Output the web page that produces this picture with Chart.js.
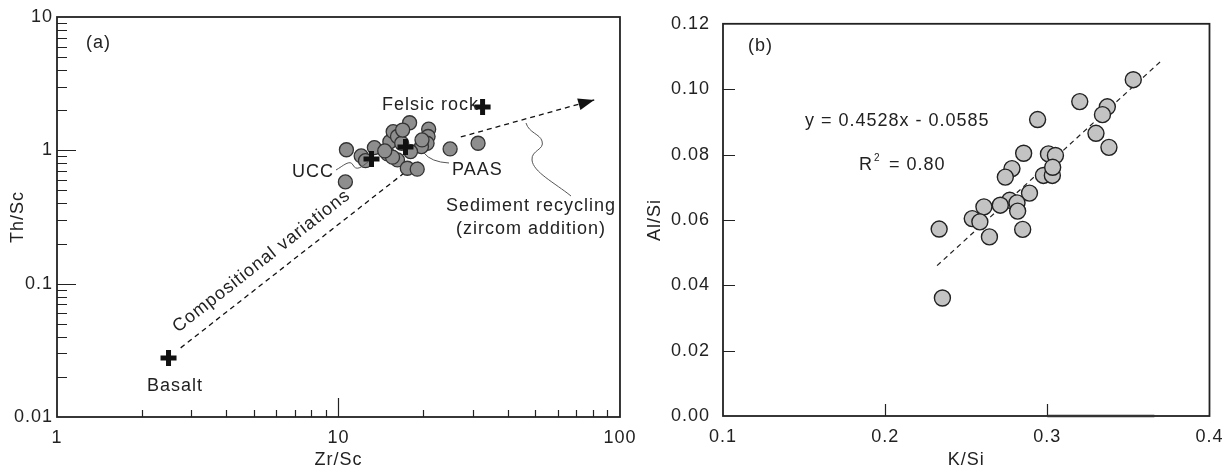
<!DOCTYPE html>
<html>
<head>
<meta charset="utf-8">
<script src="https://cdn.jsdelivr.net/npm/chart.js@4.4.1/dist/chart.umd.min.js"></script>
<style>
  body { margin: 0; background: #fff; width: 1232px; height: 469px; position: relative; overflow: hidden; }
  canvas { position: absolute; top: 0; }
  #chartA { left: 0; }
  #chartB { left: 630px; }
</style>
</head>
<body>
<canvas id="chartA" width="645" height="469"></canvas>
<canvas id="chartB" width="602" height="469"></canvas>
<script>
// ---- panel (a): Zr/Sc vs Th/Sc ----
const zrSc = [10.67, 12.04, 12.47, 13.41, 10.58, 14.94, 15.22, 15.64, 16.2, 16.77, 16.2, 15.56, 17.89,
  17.56, 19.04, 20.91, 20.81, 20.64, 19.71, 19.8, 24.92, 31.32, 18.03, 16.9, 14.6];
const thSc = [1.01, 0.908, 0.837, 1.048, 0.58, 0.94, 1.16, 1.38, 1.27, 1.13, 0.847, 0.888, 1.61,
  0.734, 0.722, 1.44, 1.27, 1.13, 1.066, 1.197, 1.024, 1.13, 0.978, 1.42, 0.99];

const refNames = ['Basalt', 'UCC', 'PAAS', 'Felsic rock'];
const refZrSc = [2.49, 13.1, 17.3, 32.5];
const refThSc = [0.0277, 0.862, 1.06, 2.11];

// dashed trend arrows
const mixZr = [2.75, 19.6];
const mixTh = [0.033, 0.847];
const recycleZr = [27.2, 81];
const recycleTh = [1.26, 2.39];

const zrTicks = [1, 10, 100];
const zrTickLabels = ['1', '10', '100'];
const thTicks = [0.01, 0.1, 1, 10];
const thTickLabels = ['0.01', '0.1', '1', '10'];

// ---- panel (b): K/Si vs Al/Si ----
const kSi = [0.353, 0.320, 0.337, 0.334, 0.330, 0.338, 0.294, 0.2854, 0.3007, 0.305, 0.2782, 0.2741,
  0.2976, 0.3031, 0.3033, 0.289, 0.2768, 0.271, 0.2813, 0.2817, 0.2609, 0.2537, 0.2584, 0.2333,
  0.2643, 0.2848, 0.2353];
const alSi = [0.1029, 0.0962, 0.0946, 0.0922, 0.0865, 0.0822, 0.0907, 0.0804, 0.0802, 0.0797, 0.0757,
  0.0731, 0.0736, 0.0736, 0.0761, 0.0682, 0.066, 0.0645, 0.0652, 0.0627, 0.064, 0.0604, 0.0594,
  0.0572, 0.0548, 0.0571, 0.0361];

const fitK = [0.232, 0.371];
const fitAl = [0.046, 0.109];

const kTicks = [0.1, 0.2, 0.3, 0.4];
const kTickLabels = ['0.1', '0.2', '0.3', '0.4'];
const alTicks = [0, 0.02, 0.04, 0.06, 0.08, 0.10, 0.12];
const alTickLabels = ['0.00', '0.02', '0.04', '0.06', '0.08', '0.10', '0.12'];

const FONT = '"Liberation Sans", Arial, sans-serif';
const INK = '#222';
Chart.defaults.font.family = FONT;
Chart.defaults.font.size = 18;
Chart.defaults.color = INK;

const pts = (xs, ys) => xs.map((x, i) => ({ x, y: ys[i] }));

// text in the figure is a bit wider than plain Arial
const spacing = {
  id: 'spacing',
  beforeDraw(chart) { chart.ctx.letterSpacing = '1px'; }
};

// box round the plot and inward tick marks
const frame = {
  id: 'frame',
  afterDatasetsDraw(chart, args, opts) {
    const { ctx, chartArea: a, scales: { x, y } } = chart;
    ctx.save();
    ctx.strokeStyle = INK;
    ctx.lineWidth = 1.2;
    ctx.beginPath();
    opts.xMarks.forEach(m => {
      const px = Math.round(x.getPixelForValue(m.v)) + 0.5;
      ctx.moveTo(px, a.bottom); ctx.lineTo(px, a.bottom - m.len);
    });
    opts.yMarks.forEach(m => {
      const py = Math.round(y.getPixelForValue(m.v)) + 0.5;
      ctx.moveTo(a.left, py); ctx.lineTo(a.left + m.len, py);
    });
    ctx.stroke();
    ctx.lineWidth = 1.8;
    ctx.strokeRect(a.left, a.top, a.right - a.left, a.bottom - a.top);
    ctx.restore();
  }
};

function logMarks(decades, minorLen, majors, majorLen) {
  const out = [];
  decades.forEach(d => { for (let k = 2; k <= 9; k++) out.push({ v: k * d, len: minorLen }); });
  majors.forEach(v => out.push({ v, len: majorLen }));
  return out;
}

function axis(type, min, max, ticks, labels, fit, pad, title, titlePad) {
  return {
    type, min, max,
    grid: { display: false, drawTicks: false },
    border: { display: false },
    afterBuildTicks: s => { s.ticks = ticks.map(v => ({ value: v })); },
    afterFit: fit,
    ticks: { padding: pad, autoSkip: false, maxRotation: 0, font: { size: 18 },
      callback: (v, i) => labels[i] },
    title: { display: true, text: title, padding: titlePad, font: { size: 18, lineHeight: 1 } }
  };
}

// ---- annotations of panel (a) ----
const notesA = {
  id: 'notesA',
  afterDatasetsDraw(chart) {
    const { ctx, scales: { x, y } } = chart;
    ctx.save();
    ctx.letterSpacing = '1px';
    ctx.fillStyle = INK;
    ctx.font = '18px ' + FONT;
    ctx.textBaseline = 'middle';
    ctx.textAlign = 'left';
    ctx.fillText('(a)', 86, 43);
    ctx.fillText('UCC', 292, 172);
    ctx.fillText('PAAS', 452, 170);
    ctx.fillText('Basalt', 147, 386);
    ctx.textAlign = 'right';
    ctx.fillText('Felsic rock', 479, 105);
    ctx.textAlign = 'center';
    ctx.fillText('Sediment recycling', 531, 206);
    ctx.fillText('(zircom addition)', 531, 229);

    // label along the compositional trend
    const ax = x.getPixelForValue(mixZr[0]), ay = y.getPixelForValue(mixTh[0]);
    const bx = x.getPixelForValue(mixZr[1]), by = y.getPixelForValue(mixTh[1]);
    const ang = Math.atan2(by - ay, bx - ax);
    ctx.save();
    ctx.translate(178, 333);
    ctx.rotate(ang);
    ctx.textAlign = 'left';
    ctx.textBaseline = 'alphabetic';
    ctx.fillText('Compositional variations', 0, 0);
    ctx.restore();

    // arrow head on the recycling trend
    const cx = x.getPixelForValue(recycleZr[0]), cy = y.getPixelForValue(recycleTh[0]);
    const dx = x.getPixelForValue(recycleZr[1]), dy = y.getPixelForValue(recycleTh[1]);
    ctx.save();
    ctx.translate(dx, dy);
    ctx.rotate(Math.atan2(dy - cy, dx - cx));
    ctx.beginPath();
    ctx.moveTo(0, 0); ctx.lineTo(-16, -6); ctx.lineTo(-16, 6); ctx.closePath();
    ctx.fillStyle = '#111';
    ctx.fill();
    ctx.restore();

    // wavy leader lines
    ctx.strokeStyle = '#555';
    ctx.lineWidth = 1;
    ctx.beginPath();
    ctx.moveTo(336, 170);
    ctx.bezierCurveTo(343, 166, 350, 159, 353, 165);
    ctx.bezierCurveTo(356, 171, 361, 168, 369, 161);
    ctx.moveTo(449, 163);
    ctx.quadraticCurveTo(431, 162, 424, 153);
    ctx.moveTo(571, 196);
    ctx.bezierCurveTo(555, 183, 533, 172, 532, 160);
    ctx.bezierCurveTo(531, 150, 545, 150, 542, 141);
    ctx.bezierCurveTo(540, 134, 529, 133, 526, 123);
    ctx.stroke();
    ctx.restore();
  }
};

new Chart(document.getElementById('chartA'), {
  type: 'scatter',
  data: {
    datasets: [
      { data: pts(refZrSc, refThSc), pointStyle: 'cross', pointRadius: 8, borderWidth: 5,
        borderColor: '#111', backgroundColor: '#111' },
      { data: pts(zrSc, thSc), pointRadius: 7, borderWidth: 1.3,
        backgroundColor: '#8e8e8e', borderColor: '#333' },
      { type: 'line', data: pts(mixZr, mixTh), borderColor: '#111', borderWidth: 1.3,
        borderDash: [5, 4], pointRadius: 0, fill: false },
      { type: 'line', data: pts(recycleZr, recycleTh), borderColor: '#111', borderWidth: 1.3,
        borderDash: [5, 4], pointRadius: 0, fill: false }
    ]
  },
  options: {
    responsive: false, animation: false, devicePixelRatio: 1, events: [],
    layout: { padding: { top: 17, right: 18, left: 0, bottom: 0 } },
    plugins: {
      legend: { display: false }, tooltip: { enabled: false },
      frame: {
        xMarks: logMarks([1, 10], 7, [10], 19),
        yMarks: logMarks([0.01, 0.1, 1], 10, [0.1, 1], 19)
      }
    },
    scales: {
      x: axis('logarithmic', 1, 100, zrTicks, zrTickLabels, s => { s.height = 52; }, 10, 'Zr/Sc',
        { top: 0, bottom: 0 }),
      y: axis('logarithmic', 0.01, 10, thTicks, thTickLabels, s => { s.width = 57; }, 4, 'Th/Sc',
        { top: 9, bottom: 0 })
    }
  },
  plugins: [spacing, frame, notesA]
});

// ---- annotations of panel (b) ----
const notesB = {
  id: 'notesB',
  afterDatasetsDraw(chart) {
    const { ctx, chartArea: a, scales: { x } } = chart;
    ctx.save();
    // darker stretch on the bottom axis
    ctx.strokeStyle = '#333';
    ctx.lineWidth = 2.6;
    ctx.beginPath();
    ctx.moveTo(x.getPixelForValue(0.3), a.bottom);
    ctx.lineTo(x.getPixelForValue(0.366), a.bottom);
    ctx.stroke();

    ctx.letterSpacing = '1px';
    ctx.fillStyle = INK;
    ctx.font = '18px ' + FONT;
    ctx.textBaseline = 'middle';
    ctx.textAlign = 'left';
    ctx.fillText('(b)', 118, 46);
    ctx.fillText('y = 0.4528x - 0.0585', 175, 121);
    ctx.fillText('R', 229, 165);
    const w = ctx.measureText('R').width;
    ctx.font = '10px ' + FONT;
    ctx.letterSpacing = '0px';
    ctx.fillText('2', 229 + w + 1, 158);
    ctx.font = '18px ' + FONT;
    ctx.letterSpacing = '1px';
    ctx.fillText('= 0.80', 259, 165);
    ctx.restore();
  }
};

new Chart(document.getElementById('chartB'), {
  type: 'scatter',
  data: {
    datasets: [
      { data: pts(kSi, alSi), pointRadius: 8, borderWidth: 1.4,
        backgroundColor: '#c3c3c3', borderColor: '#222' },
      { type: 'line', data: pts(fitK, fitAl), borderColor: '#222', borderWidth: 1.2,
        borderDash: [5, 4], pointRadius: 0, fill: false }
    ]
  },
  options: {
    responsive: false, animation: false, devicePixelRatio: 1, events: [],
    layout: { padding: { top: 22, right: 19, left: 0, bottom: 0 } },
    plugins: {
      legend: { display: false }, tooltip: { enabled: false },
      frame: {
        xMarks: [0.2, 0.3].map(v => ({ v, len: 12 })),
        yMarks: [0.02, 0.04, 0.06, 0.08, 0.10].map(v => ({ v, len: 12 }))
      }
    },
    scales: {
      x: axis('linear', 0.1, 0.4, kTicks, kTickLabels, s => { s.height = 53; }, 10, 'K/Si',
        { top: 0, bottom: 0 }),
      y: axis('linear', 0, 0.12, alTicks, alTickLabels, s => { s.width = 93; }, 13, 'Al/Si',
        { top: 16, bottom: 0 })
    }
  },
  plugins: [spacing, frame, notesB]
});
</script>
</body>
</html>
